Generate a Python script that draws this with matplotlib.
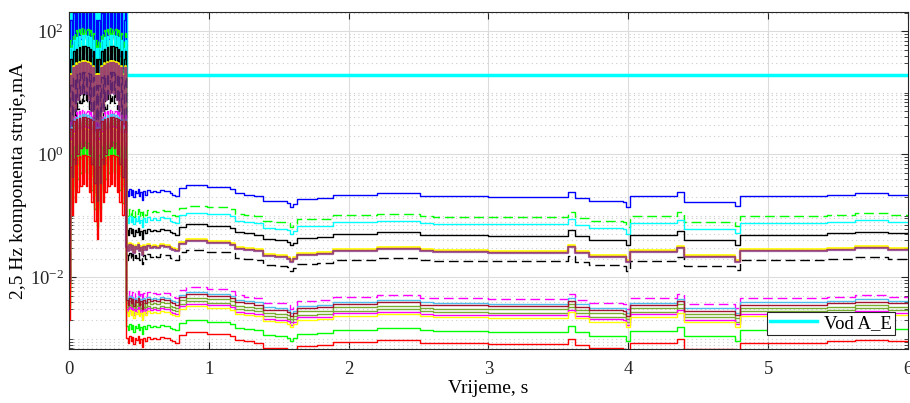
import numpy as np
import matplotlib.pyplot as plt
from matplotlib.ticker import FixedLocator, LogLocator, NullFormatter

plt.rcParams['font.family'] = ['Liberation Serif', 'DejaVu Serif']
plt.rcParams['mathtext.fontset'] = 'custom'
plt.rcParams['mathtext.rm'] = 'Liberation Serif'
plt.rcParams['mathtext.it'] = 'Liberation Serif:italic'

# transient 0 - 0.4 s, reference (upper blue) curve in mA
t_tr = [round(0.01 * i, 2) for i in range(41)]
ref_tr = [0.5, 150, 25, 200, 40, 220, 60, 230, 75, 240, 80, 240, 75, 230, 60, 220, 40,
          200, 20, 150, 10, 150, 20, 200, 40, 220, 60, 230, 75, 240, 80, 240, 75, 230,
          60, 220, 40, 200, 25, 150, 200]
# "Vod A_E" during the transient
vod_tr = [2, 500, 10, 500, 30, 500, 60, 500, 100, 500, 120, 500, 100, 500, 60, 500, 30,
          500, 8, 500, 4, 500, 8, 500, 30, 500, 60, 500, 100, 500, 120, 500, 100, 500,
          60, 500, 30, 500, 10, 500, 500]

# after the transient, reference curve
t_st = [0.41, 0.42, 0.43, 0.44, 0.45, 0.46, 0.47, 0.48, 0.49, 0.50, 0.51, 0.52, 0.53,
        0.54, 0.56, 0.58, 0.60, 0.62, 0.65, 0.68, 0.72, 0.74, 0.76, 0.79, 0.84, 0.99,
        1.01, 1.15, 1.19, 1.25, 1.32, 1.39, 1.47, 1.56, 1.58, 1.60, 1.63, 1.77, 1.89,
        2.20, 2.51, 2.60, 3.00, 3.55, 3.57, 3.62, 3.72, 3.96, 3.98, 4.01, 4.35, 4.40,
        4.76, 4.80, 5.42, 5.62, 5.86, 6.00]
ref_st = [0.25, 0.21, 0.27, 0.22, 0.26, 0.20, 0.25, 0.23, 0.27, 0.21, 0.24, 0.18, 0.25,
          0.22, 0.26, 0.24, 0.25, 0.24, 0.26, 0.25, 0.23, 0.22, 0.21, 0.28, 0.31, 0.29,
          0.29, 0.27, 0.23, 0.22, 0.21, 0.175, 0.17, 0.16, 0.14, 0.155, 0.185, 0.19,
          0.215, 0.23, 0.21, 0.205, 0.20, 0.20, 0.245, 0.195, 0.172, 0.168, 0.14, 0.207,
          0.24, 0.168, 0.143, 0.21, 0.22, 0.235, 0.22, 0.22]

# Vod A_E steady value
vod_t = [0.41, 0.90, 6.00]
vod_st = [19.0, 19.6, 19.6]

# level of every other curve relative to the reference curve
levels = [1.0, 0.47, 0.36, 0.235, 0.135, 0.13, 0.09,
          0.022, 0.0185, 0.015, 0.0133, 0.012, 0.011, 0.0065, 0.0041,
          0.125, 0.017]

colors = ['#0000ff', '#00ff00', '#00ffff', '#000000', '#ffff00', '#ff8000', '#000000',
          '#ff00ff', '#4dbeee', '#77ac30', '#77ac30', '#ff00ff', '#ffff00', '#00ff00', '#ff0000',
          '#7e2f8e', '#a2142f']
styles = ['-', '--', '-', '-', '-', '-', '--',
          '--', '-', '-', '-', '-', '-', '-', '-',
          '-', '-']
widths = [1.0, 1.0, 1.0, 1.0, 1.2, 1.0, 1.0,
          1.0, 1.0, 1.0, 1.0, 1.0, 1.0, 1.0, 1.0,
          1.6, 1.0]
alphas = [1, 1, 1, 1, 1, 1, 1,
          1, 1, 1, 1, 1, 1, 1, 1,
          0.75, 1]

fig = plt.figure(figsize=(9.1, 4.03), dpi=100)
ax = fig.add_axes([69 / 910, 1 - 349 / 403, 839 / 910, 337 / 403])

t_all = np.array(t_tr + t_st)
ref_all = np.array(ref_tr + ref_st)

ax.plot(t_tr + vod_t, vod_tr + vod_st, color='#00ffff', lw=2.5,
        drawstyle='steps-post', label='Vod A_E')
for lev, c, ls, lw, a in zip(levels, colors, styles, widths, alphas):
    line, = ax.plot(t_all, lev * ref_all, color=c, lw=lw, alpha=a, drawstyle='steps-post')
    if ls == '--':
        line.set_dashes((7, 3.5))

ax.set_yscale('log')
ax.set_xlim(0, 6)
ax.set_ylim(6.8e-4, 204)
ax.yaxis.set_major_locator(FixedLocator([1e-2, 1, 1e2]))
ax.set_yticklabels(['$10^{-2}$', '$10^{0}$', '$10^{2}$'])
ax.yaxis.set_minor_locator(LogLocator(base=10, subs=np.arange(1, 10), numticks=30))
ax.yaxis.set_minor_formatter(NullFormatter())
ax.set_xticks(range(7))

ax.grid(True, which='major', color='#dcdcdc', lw=0.8, ls='-')
ax.grid(True, which='minor', axis='y', color='#cccccc', lw=0.8, ls=(0, (1, 3)))
ax.set_axisbelow(True)

ax.tick_params(which='both', direction='in', top=True, right=True, labelsize=13.5, colors='#262626')
ax.tick_params(which='major', length=5)
ax.tick_params(which='minor', length=3)
ax.tick_params(axis='x', pad=9)
for s in ax.spines.values():
    s.set_color('#262626')
    s.set_linewidth(0.8)

ax.set_xlabel('Vrijeme, s', fontsize=14, labelpad=1)
ax.set_ylabel('2,5 Hz komponenta struje,mA', fontsize=14, labelpad=2)

leg = ax.legend(loc='lower right', fontsize=13.5, fancybox=False, framealpha=1,
                edgecolor='#262626', handlelength=2.5, borderpad=0.15,
                handletextpad=0.4, borderaxespad=0,
                bbox_to_anchor=(0.9845, 0.042))
leg.get_frame().set_linewidth(0.8)

fig.savefig('out.png', dpi=100)
